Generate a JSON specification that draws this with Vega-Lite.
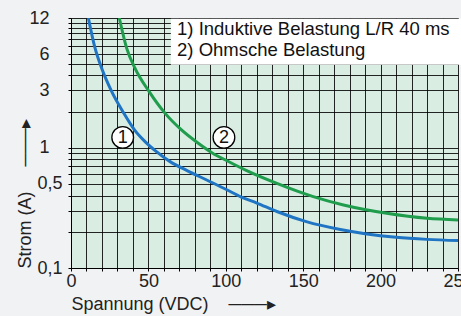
{
  "$schema": "https://vega.github.io/schema/vega-lite/v6.json",
  "width": 387,
  "height": 250,
  "autosize": {"type": "none"},
  "padding": {"left": 71, "top": 18, "right": 3, "bottom": 48},
  "background": "#f1f2f4",
  "config": {"view": {"fill": "#d9ede2", "stroke": null}, "font": "Liberation Sans"},
  "datasets": {
    "curves": [
      {"series": "1", "x": 11.2, "y": 12},
      {"series": "1", "x": 15.5, "y": 6.76},
      {"series": "1", "x": 20, "y": 4.52},
      {"series": "1", "x": 26, "y": 2.99},
      {"series": "1", "x": 34, "y": 1.95},
      {"series": "1", "x": 41, "y": 1.41},
      {"series": "1", "x": 48, "y": 1.12},
      {"series": "1", "x": 55, "y": 0.933},
      {"series": "1", "x": 64, "y": 0.767},
      {"series": "1", "x": 75, "y": 0.646},
      {"series": "1", "x": 88, "y": 0.537},
      {"series": "1", "x": 100, "y": 0.452},
      {"series": "1", "x": 110, "y": 0.389},
      {"series": "1", "x": 120, "y": 0.347},
      {"series": "1", "x": 133, "y": 0.295},
      {"series": "1", "x": 152, "y": 0.243},
      {"series": "1", "x": 174, "y": 0.209},
      {"series": "1", "x": 190, "y": 0.193},
      {"series": "1", "x": 210, "y": 0.18},
      {"series": "1", "x": 230, "y": 0.173},
      {"series": "1", "x": 250, "y": 0.169},
      {"series": "2", "x": 31.2, "y": 12},
      {"series": "2", "x": 36, "y": 6.7},
      {"series": "2", "x": 41.3, "y": 4.6},
      {"series": "2", "x": 50.5, "y": 2.93},
      {"series": "2", "x": 60.7, "y": 1.94},
      {"series": "2", "x": 71, "y": 1.42},
      {"series": "2", "x": 82.2, "y": 1.09},
      {"series": "2", "x": 91, "y": 0.91},
      {"series": "2", "x": 102, "y": 0.765},
      {"series": "2", "x": 113.5, "y": 0.645},
      {"series": "2", "x": 133, "y": 0.505},
      {"series": "2", "x": 156.5, "y": 0.392},
      {"series": "2", "x": 176, "y": 0.334},
      {"series": "2", "x": 204, "y": 0.285},
      {"series": "2", "x": 230, "y": 0.259},
      {"series": "2", "x": 250, "y": 0.251}
    ],
    "box": [{"x": 64.5, "x2": 252.5, "y": 4.9, "y2": 11.85}],
    "notes": [
      {"x": 68.5, "y": 9.73, "text": "1) Induktive Belastung L/R 40 ms"},
      {"x": 68.5, "y": 6.5, "text": "2) Ohmsche Belastung"}
    ],
    "markers": [
      {"x": 33.4, "y": 1.22, "num": "1"},
      {"x": 98.8, "y": 1.22, "num": "2"}
    ]
  },
  "layer": [
    {
      "data": {"name": "curves"},
      "mark": {"type": "line", "strokeWidth": 3, "interpolate": "monotone", "clip": true},
      "encoding": {
        "x": {
          "field": "x", "type": "quantitative",
          "scale": {"domain": [0, 250], "nice": false, "zero": false},
          "axis": {
            "values": [0,10,20,30,40,50,60,70,80,90,100,110,120,130,140,150,160,170,180,190,200,210,220,230,240,250],
            "tickCount": 40,
            "labelExpr": "datum.value % 50 === 0 ? format(datum.value, 'd') : ''",
            "grid": true, "gridColor": "#000", "gridWidth": 1, "gridOpacity": 0.85,
            "domainColor": "#000", "domainWidth": 1,
            "tickColor": "#000", "tickSize": 3,
            "labelFontSize": 18, "labelColor": "#222", "labelPadding": 1,
            "labelFlush": false, "labelOverlap": false,
            "title": "\u00a0Spannung (VDC)\u00a0\u00a0\u00a0\u00a0───▸",
            "titleAnchor": "start", "titleFontSize": 18, "titleFontWeight": "normal",
            "titleColor": "#222", "titlePadding": 5
          }
        },
        "y": {
          "field": "y", "type": "quantitative",
          "scale": {"type": "log", "domain": [0.1, 12], "nice": false},
          "axis": {
            "values": [0.1,0.2,0.3,0.4,0.5,0.6,0.7,0.8,0.9,1,2,3,4,5,6,7,8,9,10,11,12],
            "tickCount": 40,
            "labelExpr": "datum.value == 0.1 ? '0,1' : datum.value == 0.5 ? '0,5' : datum.value == 1 ? '1' : datum.value == 3 ? '3' : datum.value == 6 ? '6' : datum.value == 12 ? '12' : ''",
            "grid": true, "gridColor": "#000", "gridWidth": 1, "gridOpacity": 0.85,
            "domainColor": "#000", "domainWidth": 1,
            "tickColor": "#000", "tickSize": 3,
            "labelFontSize": 18, "labelColor": "#222",
            "labelPadding": {"condition": {"test": "datum.value < 0.95", "value": 6}, "value": 19},
            "labelOverlap": false, "labelFlush": false,
            "title": "Strom (A)\u00a0\u00a0\u00a0\u00a0\u00a0───▸",
            "titleAnchor": "start", "titleFontSize": 18, "titleFontWeight": "normal",
            "titleColor": "#222", "titlePadding": -6
          }
        },
        "color": {
          "field": "series", "type": "nominal",
          "scale": {"domain": ["1", "2"], "range": ["#1f74c4", "#1f9d4c"]},
          "legend": null
        }
      }
    },
    {
      "data": {"name": "box"},
      "mark": {"type": "rect", "fill": "#ffffff", "stroke": null},
      "encoding": {
        "x": {"field": "x", "type": "quantitative"},
        "x2": {"field": "x2"},
        "y": {"field": "y", "type": "quantitative"},
        "y2": {"field": "y2"}
      }
    },
    {
      "data": {"name": "notes"},
      "mark": {"type": "text", "align": "left", "baseline": "middle", "fontSize": 18.5, "color": "#111"},
      "encoding": {
        "x": {"field": "x", "type": "quantitative"},
        "y": {"field": "y", "type": "quantitative"},
        "text": {"field": "text"}
      }
    },
    {
      "data": {"name": "markers"},
      "mark": {"type": "point", "shape": "circle", "filled": true, "fill": "#ffffff", "stroke": "#000", "strokeWidth": 1.3, "size": 470, "opacity": 1},
      "encoding": {
        "x": {"field": "x", "type": "quantitative"},
        "y": {"field": "y", "type": "quantitative"}
      }
    },
    {
      "data": {"name": "markers"},
      "mark": {"type": "text", "align": "center", "baseline": "middle", "fontSize": 18, "color": "#111", "dy": 1},
      "encoding": {
        "x": {"field": "x", "type": "quantitative"},
        "y": {"field": "y", "type": "quantitative"},
        "text": {"field": "num"}
      }
    }
  ]
}
